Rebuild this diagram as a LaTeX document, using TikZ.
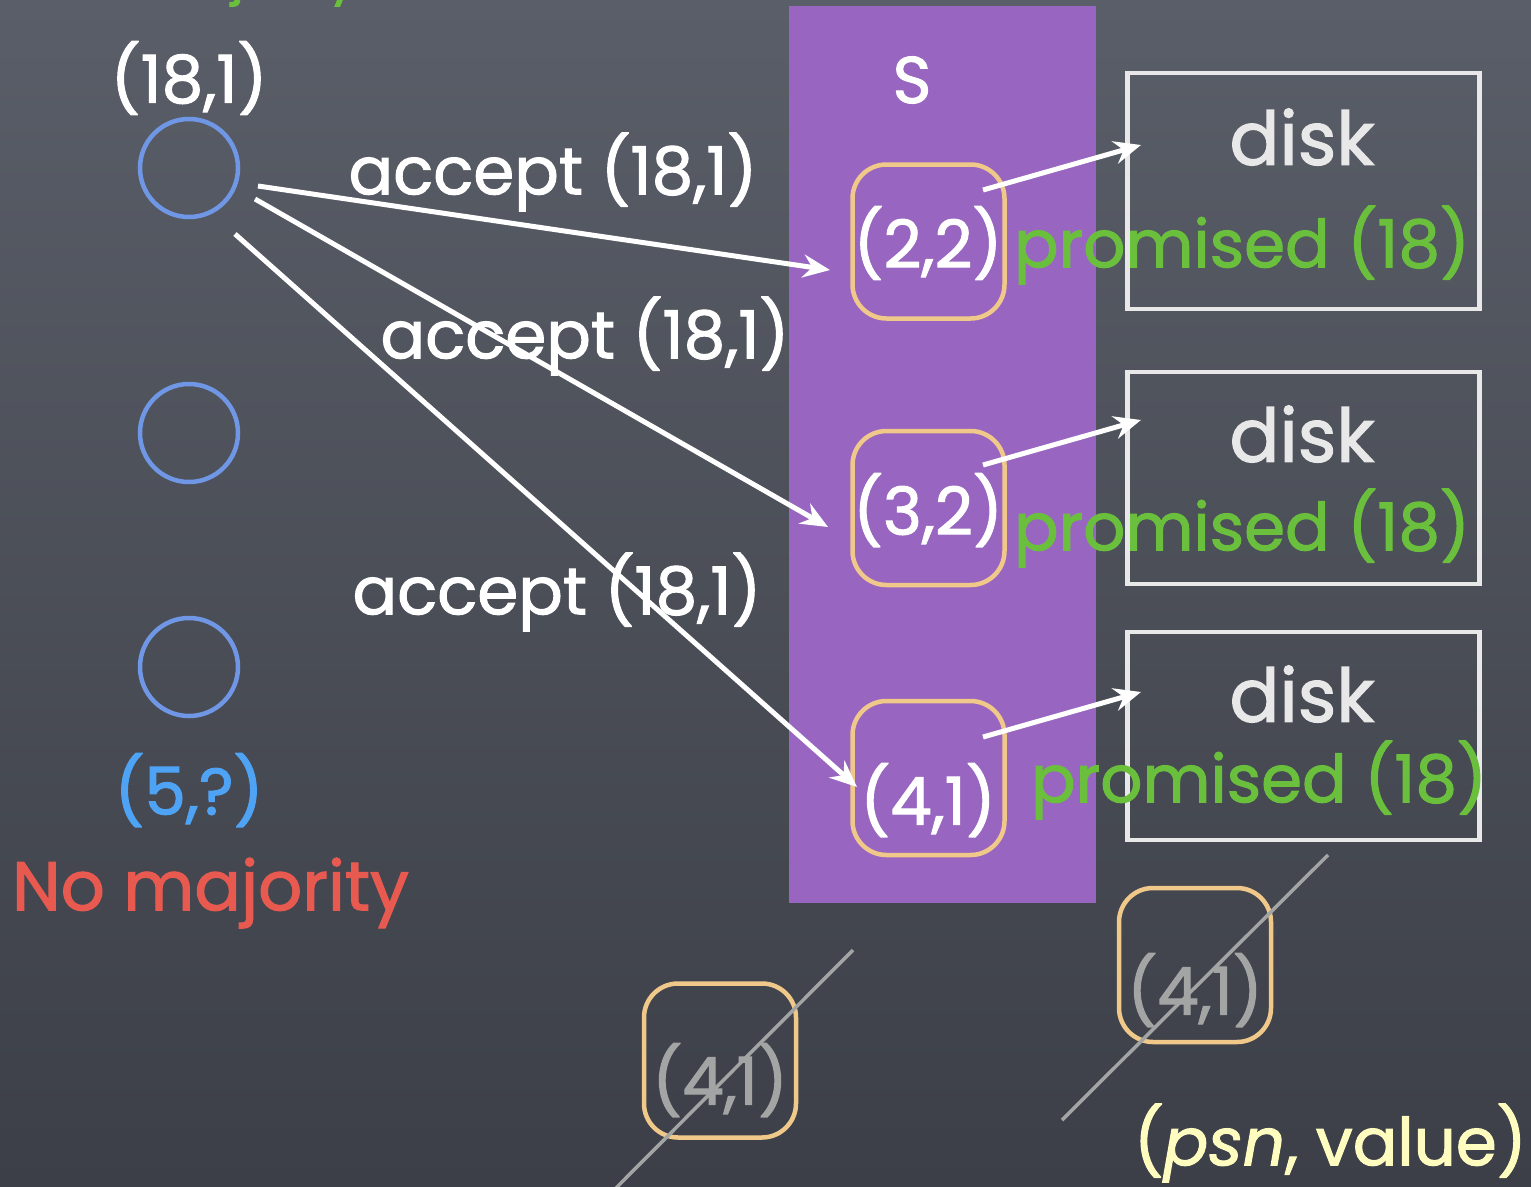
\documentclass[tikz,border=0pt]{standalone}
\usepackage{fontspec}
\setmainfont{Poppins}[FakeBold=1.6]
\usetikzlibrary{arrows.meta}
\definecolor{boardtop}{HTML}{5A5E68}
\definecolor{boardbot}{HTML}{3C3F47}
\definecolor{servpurple}{HTML}{9866C0}
\definecolor{circblue}{HTML}{6F97E6}
\definecolor{qblue}{HTML}{4FA3F5}
\definecolor{slotgold}{HTML}{F0C98A}
\definecolor{diskwhite}{HTML}{E8E8E8}
\definecolor{promgreen}{HTML}{6ABF3C}
\definecolor{warnred}{HTML}{E85A50}
\definecolor{strikegray}{HTML}{A3A5A5}
\definecolor{pairyellow}{HTML}{FFFCC0}
\begin{document}
\begin{tikzpicture}[x=1pt,y=-1pt,
  lbl/.style={inner sep=0pt, font=\fontsize{66}{70}\selectfont, text=white},
  acceptor/.style={circle, draw=circblue, line width=4.5pt, minimum size=98pt, inner sep=0pt},
  slot/.style={draw=slotgold, line width=4.5pt, rounded corners=34pt, minimum width=152pt, minimum height=154pt, inner sep=0pt},
  diskbox/.style={draw=diskwhite, line width=4.5pt, minimum width=352pt, inner sep=0pt},
  msg/.style={draw=white, line width=5pt, -{Stealth[length=27pt,width=23pt,inset=9pt]}},
  strike/.style={draw=strikegray, line width=3.5pt}
]
\useasboundingbox (0,0) rectangle (1531,1186);
\shade[top color=boardtop, bottom color=boardbot] (0,0) rectangle (1531,1186);

% server column
\fill[servpurple] (789,6) rectangle (1096,903);
\node[lbl] (S) at (912,80) {S};

% acceptors on the left
\node[lbl, text=promgreen, font=\fontsize{52}{56}\selectfont, anchor=base] (maj) at (250,-7) {majority};
\node[lbl] (p18) at (189,78) {(18,1)};
\node[acceptor] (a1) at (189,168) {};
\node[acceptor] (a2) at (189,433) {};
\node[acceptor] (a3) at (189,667) {};
\node[lbl, text=qblue] (p5) at (189,790) {(5,?)};
\node[lbl, text=warnred, anchor=west, font=\fontsize{69}{72}\selectfont] (nomaj) at (12,893) {No majority};

% disks
\node[diskbox, minimum height=236pt] (d1) at (1303.5,191) {};
\node[diskbox, minimum height=212pt] (d2) at (1303.5,478) {};
\node[diskbox, minimum height=208pt] (d3) at (1303.5,736) {};
\node[lbl, text=diskwhite, font=\fontsize{74}{78}\selectfont] (dk1) at (1302,137) {disk};
\node[lbl, text=diskwhite, font=\fontsize{74}{78}\selectfont] (dk2) at (1302,434) {disk};
\node[lbl, text=diskwhite, font=\fontsize{74}{78}\selectfont] (dk3) at (1302,694) {disk};

% slots held by the server
\node[slot] (s1) at (928.5,241.5) {};
\node[slot] (s2) at (928.5,508) {};
\node[slot] (s3) at (928.5,778) {};
\node[lbl] (v1) at (928,243) {(2,2)};
\node[lbl] (v2) at (928,510) {(3,2)};
\node[lbl] (v3) at (928,800) {(4,1)};

\node[lbl, text=promgreen] (pr1) at (1242,245) {promised (18)};
\node[lbl, text=promgreen] (pr2) at (1242,528) {promised (18)};
\node[lbl, text=promgreen] (pr3) at (1259,780) {promised (18)};

% accept messages
\node[lbl] (acc1) at (553,172) {accept (18,1)};
\node[lbl] (acc2) at (585,336) {accept (18,1)};
\node[lbl] (acc3) at (557,592) {accept (18,1)};
\coordinate (m1s) at (258,186);
\coordinate (m1e) at (830,270);
\coordinate (m2s) at (255,199);
\coordinate (m2e) at (828,527);
\coordinate (m3s) at (235,234);
\coordinate (m3e) at (857,787);
\draw[msg] (m1s) -- (m1e);
\draw[msg] (m2s) -- (m2e);
\draw[msg] (m3s) -- (m3e);

% writes to disk
\coordinate (w1s) at (983,190);
\coordinate (w1e) at (1141,145);
\coordinate (w2s) at (983,465);
\coordinate (w2e) at (1141,420);
\coordinate (w3s) at (983,737);
\coordinate (w3e) at (1141,692);
\draw[msg] (w1s) -- (w1e);
\draw[msg] (w2s) -- (w2e);
\draw[msg] (w3s) -- (w3e);

% discarded slots
\node[slot] (x1) at (720,1060.5) {};
\node[lbl, text=strikegray] (xv1) at (720,1080) {(4,1)};
\node[slot] (x2) at (1195,965) {};
\node[lbl, text=strikegray] (xv2) at (1195,990) {(4,1)};
\coordinate (k1a) at (614,1190);
\coordinate (k1b) at (853,950);
\coordinate (k2a) at (1062,1120);
\coordinate (k2b) at (1328,855);
\draw[strike] (k1a) -- (k1b);
\draw[strike] (k2a) -- (k2b);

\node[lbl, text=pairyellow, anchor=east] (pair) at (1527,1143) {(\textit{psn}, value)};
\end{tikzpicture}
\end{document}
